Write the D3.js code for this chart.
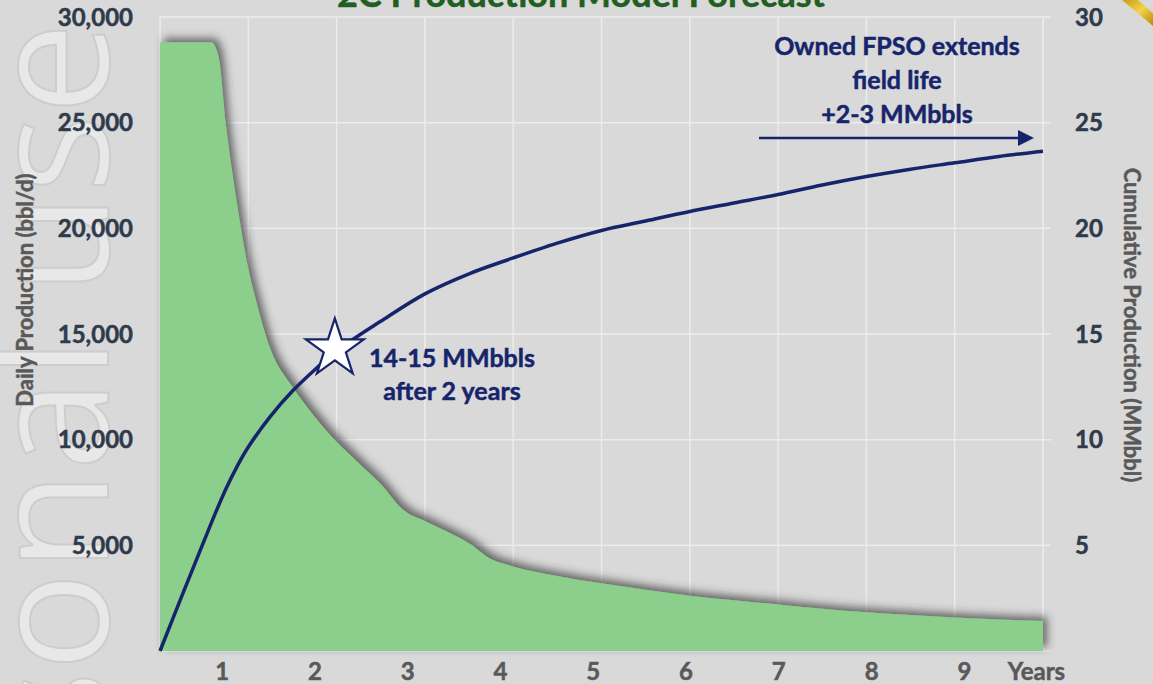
<!DOCTYPE html>
<html>
<head>
<meta charset="utf-8">
<script src="https://cdn.jsdelivr.net/npm/d3@7/dist/d3.min.js"></script>
<style>
body{margin:0;background:#d9d9d9;overflow:hidden;}
svg{display:block;font-family:Lato,'Open Sans',sans-serif;font-weight:bold;}
</style>
</head>
<body>
<div class="canvas"></div>
<script>
// daily production (bbl/d)
const dailyYears=[0,0.58,0.66,0.75,0.81,0.89,0.98,1.1,1.25,1.5,1.75,2.0,2.25,2.5,2.75,3.0,3.25,3.5,3.75,4.0,4.5,5.0,5.5,6,6.5,7,7.5,8,8.5,9,9.5,10];
const dailyBbl=[28800,28800,28200,24800,22900,20700,18500,16400,14300,12500,11100,9900,8900,7900,6700,6150,5650,5100,4350,4000,3550,3200,2900,2620,2400,2200,2000,1830,1700,1580,1490,1420];

// cumulative production (MMbbl), the navy line
const cumYears=[0,0.25,0.5,0.625,0.75,0.875,1.0,1.25,1.5,1.75,2.0,2.5,3.0,3.5,4.0,4.5,5.0,5.5,6.0,6.5,7.0,7.5,8.0,8.5,9.0,9.5,10];
const cumMMbbl=[0,2.63,5.22,6.5,7.7,8.75,9.65,11.1,12.3,13.3,14.2,15.6,16.9,17.85,18.6,19.3,19.9,20.35,20.8,21.2,21.6,22.05,22.45,22.8,23.1,23.4,23.65];

const leftTicks=[5000,10000,15000,20000,25000,30000];
const rightTicks=[5,10,15,20,25,30];
const gridYears=[0,1,2,3,4,5,6,7,8,9,10];
const xTickLabels=['1','2','3','4','5','6','7','8','9','Years'];

const starPoint={year:1.98,mmbbl:14.3};
const fpsoLines=['Owned FPSO extends','field life','+2-3 MMbbls'];
const twoYearLines=['14-15 MMbbls','after 2 years'];

const W=1153,H=684;
const L=160,R=1043,T=17,B=651;
const navy='#16256b';

const svg=d3.select('.canvas').append('svg')
  .attr('width',W)
  .attr('height',H);

const defs=svg.append('defs');
defs.append('filter')
  .attr('id','shadow')
  .attr('x','-5%').attr('y','-10%').attr('width','115%').attr('height','120%')
  .append('feDropShadow')
  .attr('dx',4).attr('dy',-4)
  .attr('stdDeviation',4)
  .attr('flood-color','#333')
  .attr('flood-opacity',0.7);
const gold=defs.append('linearGradient').attr('id','gold')
  .attr('x1','0').attr('y1','0').attr('x2','1').attr('y2','1');
gold.append('stop').attr('offset','0%').attr('stop-color','#c99a12');
gold.append('stop').attr('offset','50%').attr('stop-color','#f1d44a');
gold.append('stop').attr('offset','100%').attr('stop-color','#b8860b');

svg.append('rect').attr('width',W).attr('height',H).attr('fill','#d9d9d9');

// watermark
svg.append('text')
  .attr('transform','translate(108,22) rotate(-90)')
  .attr('text-anchor','end')
  .attr('font-size',165)
  .attr('font-weight',400)
  .attr('font-family',"'Open Sans',sans-serif")
  .attr('fill','#e8e8e8')
  .attr('stroke','#cdcdcd')
  .attr('stroke-width',2)
  .text('Personal use');

// corner decoration
svg.append('polygon')
  .attr('points','1122,0 1138,0 1153,13 1153,26')
  .attr('fill','url(#gold)');

const x=d3.scaleLinear().domain([0,10]).range([L,R]);
const yL=d3.scaleLinear().domain([0,30000]).range([B,T]);
const yR=d3.scaleLinear().domain([0,30]).range([B,T]);
const xLab=d3.scalePoint().domain(xTickLabels).range([x(0.705),x(10.16)]);

// grid
const grid=svg.append('g').attr('stroke','#ececec').attr('stroke-width',1.5);
grid.selectAll('.vg').data(gridYears).join('line')
  .attr('x1',d=>x(d)).attr('x2',d=>x(d))
  .attr('y1',T).attr('y2',B);
grid.selectAll('.hg').data(leftTicks).join('line')
  .attr('x1',L).attr('x2',R+8)
  .attr('y1',d=>yL(d)).attr('y2',d=>yL(d));
grid.append('line').attr('x1',L).attr('x2',R+8).attr('y1',B).attr('y2',B);

// green area
const area=d3.area()
  .x(d=>x(d[0]))
  .y0(yL(0))
  .y1(d=>yL(d[1]))
  .curve(d3.curveMonotoneX);
svg.append('path')
  .datum(d3.zip(dailyYears,dailyBbl))
  .attr('d',area)
  .attr('fill','#8ccf8c')
  .attr('filter','url(#shadow)');

// cumulative line
const line=d3.line()
  .x(d=>x(d[0]))
  .y(d=>yR(d[1]))
  .curve(d3.curveCatmullRom.alpha(0.5));
svg.append('path')
  .datum(d3.zip(cumYears,cumMMbbl))
  .attr('d',line)
  .attr('fill','none')
  .attr('stroke',navy)
  .attr('stroke-width',3.5);

// star
svg.append('path')
  .attr('d',d3.symbol(d3.symbolStar,1040)())
  .attr('transform',`translate(${x(starPoint.year)},${yR(starPoint.mmbbl)})`)
  .attr('fill','#fff')
  .attr('stroke',navy)
  .attr('stroke-width',2.2)
  .attr('stroke-linejoin','miter');

// heavier strokes so Lato bold reads closer to the original bold face
function heavy(sel,color){
  return sel.attr('fill',color).attr('stroke',color).attr('stroke-width',0.5);
}

// axes labels
const leftAxis=heavy(svg.append('g'),'#2f3b4c').attr('font-size',24).attr('text-anchor','end');
leftAxis.selectAll('text').data(leftTicks).join('text')
  .attr('x',133)
  .attr('y',d=>yL(d))
  .attr('dy','0.36em')
  .text(d3.format(','));

const rightAxis=heavy(svg.append('g'),'#2f3b4c').attr('font-size',24).attr('text-anchor','start');
rightAxis.selectAll('text').data(rightTicks).join('text')
  .attr('x',1075)
  .attr('y',d=>yR(d))
  .attr('dy','0.36em')
  .text(d=>d);

const bottomAxis=heavy(svg.append('g'),'#595959').attr('font-size',24);
bottomAxis.selectAll('text').data(xTickLabels).join('text')
  .attr('x',d=>d==='Years'?xLab(d)+8:xLab(d))
  .attr('y',680)
  .attr('text-anchor',d=>d==='Years'?'end':'middle')
  .text(d=>d);

heavy(svg.append('text'),'#595959')
  .attr('transform','translate(33,290) rotate(-90)')
  .attr('text-anchor','middle')
  .attr('font-size',22)
  .text('Daily Production (bbl/d)');

heavy(svg.append('text'),'#595959')
  .attr('transform','translate(1124,325) rotate(90)')
  .attr('text-anchor','middle')
  .attr('font-size',22)
  .text('Cumulative Production (MMbbl)');

// title, cut off at the top
heavy(svg.append('text'),'#215e21')
  .attr('x',581)
  .attr('y',7)
  .attr('text-anchor','middle')
  .attr('font-size',36)
  .text('2C Production Model Forecast');

// annotations
heavy(svg.append('g'),navy).attr('font-size',25).attr('text-anchor','middle')
  .selectAll('text').data(fpsoLines).join('text')
  .attr('x',897)
  .attr('y',(d,i)=>55+i*34)
  .text(d=>d);

heavy(svg.append('g'),navy).attr('font-size',25).attr('text-anchor','middle')
  .selectAll('text').data(twoYearLines).join('text')
  .attr('x',452)
  .attr('y',(d,i)=>367+i*33)
  .text(d=>d);

// arrow
svg.append('line')
  .attr('x1',759).attr('x2',1020)
  .attr('y1',138).attr('y2',138)
  .attr('stroke',navy).attr('stroke-width',2.5);
svg.append('polygon')
  .attr('points','1018,130 1034,138 1018,146')
  .attr('fill',navy);
</script>
</body>
</html>
